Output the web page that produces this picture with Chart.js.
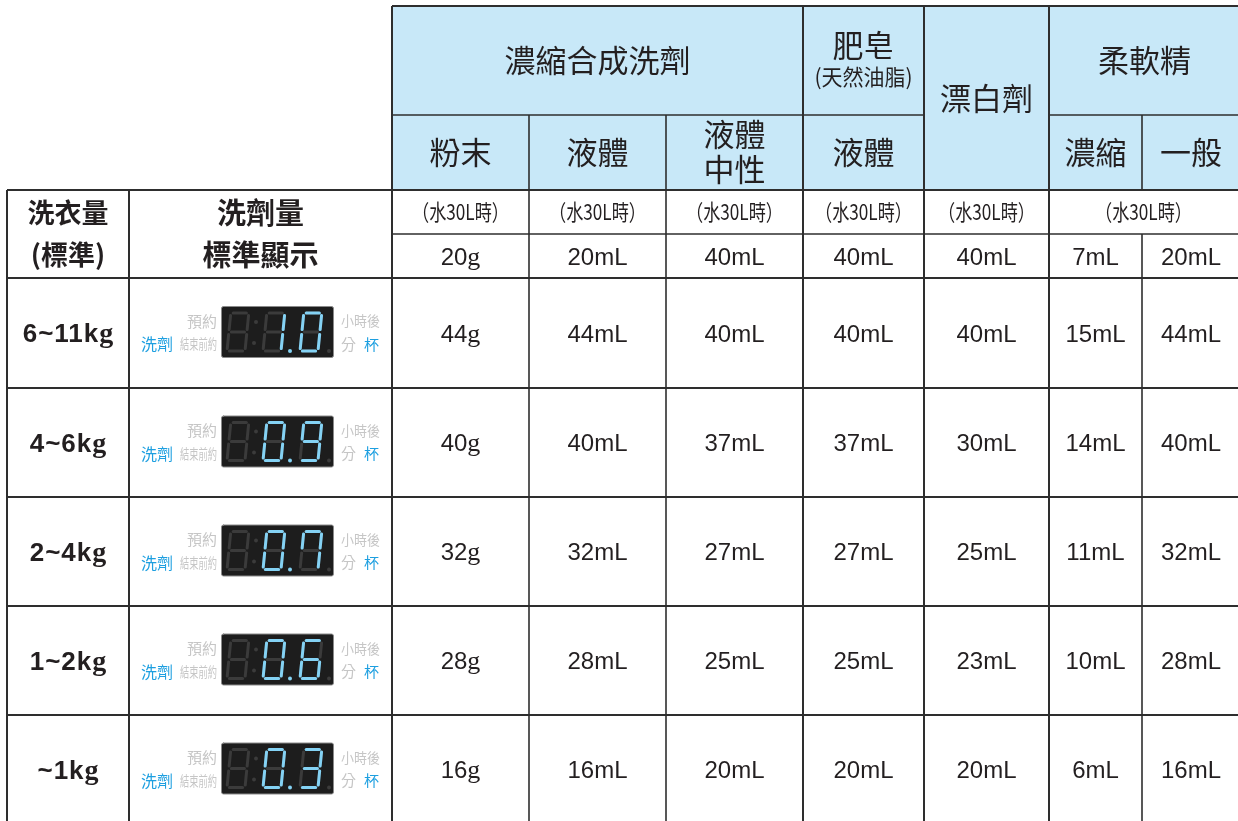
<!DOCTYPE html>
<html><head><meta charset="utf-8">
<script src="https://cdn.jsdelivr.net/npm/chart.js@4/dist/chart.umd.min.js"></script>
<style>html,body{margin:0;padding:0;background:#fff}#wrap{width:1238px;height:821px;position:relative}</style>
</head><body><div id="wrap"><canvas id="c"></canvas></div>
<script>
// ---------- data ----------
const loadLabels = ['6~11kg', '4~6kg', '2~4kg', '1~2kg', '~1kg'];
const displayReadings = ['1.0', '0.9', '0.7', '0.6', '0.3'];
const powderG = [44, 40, 32, 28, 16];
const liquidML = [44, 40, 32, 28, 16];
const neutralML = [40, 37, 27, 25, 20];
const soapML = [40, 37, 27, 25, 20];
const bleachML = [40, 30, 25, 23, 20];
const softenerConcML = [15, 14, 11, 10, 6];
const softenerNormalML = [44, 40, 32, 28, 16];
const per30L = [20, 20, 40, 40, 40, 7, 20];
const units = ['g', 'mL', 'mL', 'mL', 'mL', 'mL', 'mL'];
const subHeaders = [['粉末'], ['液體'], ['液體', '中性'], ['液體'], null, ['濃縮'], ['一般']];
const waterNote = '（水30L時）';

// ---------- layout (scale units) ----------
const colEdges = [7, 129, 392, 529, 666, 803, 924, 1049, 1142, 1240];
const rowEdges = [6, 115, 190, 234, 278, 388, 497, 606, 715, 824];

const columns = [powderG, liquidML, neutralML, soapML, bleachML, softenerConcML, softenerNormalML];
const mid = (a, b) => (a + b) / 2;
const colCenter = c => mid(colEdges[c], colEdges[c + 1]);
const rowCenter = r => mid(rowEdges[r], rowEdges[r + 1]);

const datasets = columns.map((vals, ci) => ({
  label: 'col' + ci,
  data: [{x: colCenter(ci + 2), y: rowCenter(3), v: per30L[ci]}]
    .concat(vals.map((v, ri) => ({x: colCenter(ci + 2), y: rowCenter(4 + ri), v}))),
  unit: units[ci],
  pointRadius: 0, showLine: false
}));

const TXT = '#231f20', LINE = '#2e2e2e', HEAD_BG = '#c8e8f8';
const CJK = '"Noto Sans CJK TC", "Noto Sans CJK JP", sans-serif';
const SANS = '"Liberation Sans", Arial, sans-serif';
const SERIF = '"Liberation Serif", "Times New Roman", serif';

function rich(ctx, parts, cx, baseline) {
  let total = 0;
  parts.forEach(p => { ctx.font = p.f; ctx.letterSpacing = p.ls || '0px'; p.w = ctx.measureText(p.t).width; total += p.w; });
  let x = cx - total / 2;
  ctx.textAlign = 'left'; ctx.textBaseline = 'alphabetic';
  parts.forEach(p => { ctx.font = p.f; ctx.letterSpacing = p.ls || '0px'; ctx.fillText(p.t, x, baseline); x += p.w; });
  ctx.letterSpacing = '0px';
}
function cjk(ctx, t, x, y, size, opts = {}) {
  ctx.font = `${opts.weight || 400} ${size}px ${CJK}`;
  ctx.fillStyle = opts.color || TXT;
  ctx.textAlign = opts.align || 'center';
  ctx.textBaseline = 'middle';
  if (opts.maxWidth) ctx.fillText(t, x, y, opts.maxWidth); else ctx.fillText(t, x, y);
}

const SEGS = {
  '0': 'abcdef', '1': 'bc', '2': 'abdeg', '3': 'abcdg', '4': 'bcfg', '5': 'acdfg',
  '6': 'acdefg', '7': 'abcf', '8': 'abcdefg', '9': 'abcdfg'
};
function drawDigit(ctx, dx, dy, segs, color) {
  const W = 18, H = 38, g = 2.4, sk = 0.1;
  const P = (x, y) => [dx + x + (H - y) * sk, dy + y];
  const lines = {
    a: [[g, 0], [W - g, 0]], b: [[W, g], [W, H / 2 - g]], c: [[W, H / 2 + g], [W, H - g]],
    d: [[g, H], [W - g, H]], e: [[0, H / 2 + g], [0, H - g]], f: [[0, g], [0, H / 2 - g]],
    g: [[g, H / 2], [W - g, H / 2]]
  };
  ctx.strokeStyle = color; ctx.lineWidth = 3; ctx.lineCap = 'round';
  for (const s of segs) {
    const [p1, p2] = lines[s];
    const a = P(...p1), b = P(...p2);
    ctx.beginPath(); ctx.moveTo(a[0], a[1]); ctx.lineTo(b[0], b[1]); ctx.stroke();
  }
}
function dot(ctx, x, y, color) { ctx.fillStyle = color; ctx.beginPath(); ctx.arc(x, y, 2, 0, Math.PI * 2); ctx.fill(); }

function drawLED(ctx, bx, by, reading) {
  const DIM = '#3b3b3b', LIT = '#84d2f4', GRAY = '#c6c6c6', BLUE = '#1d9fe0';
  // labels
  cjk(ctx, '預約', bx - 4, by + 15, 15, {align: 'right', color: GRAY});
  cjk(ctx, '結束前約', bx - 4, by + 38, 14, {align: 'right', color: GRAY, maxWidth: 37});
  cjk(ctx, '洗劑', bx - 48, by + 38, 16, {align: 'right', color: BLUE});
  cjk(ctx, '小時後', bx + 120, by + 15, 14, {align: 'left', color: GRAY, maxWidth: 39});
  cjk(ctx, '分', bx + 120, by + 38, 15, {align: 'left', color: GRAY});
  cjk(ctx, '杯', bx + 143, by + 38, 15, {align: 'left', color: BLUE});
  // box
  ctx.fillStyle = '#1d1d1d'; ctx.strokeStyle = '#8a8a8a'; ctx.lineWidth = 1;
  ctx.beginPath(); ctx.roundRect(bx + 0.5, by + 0.5, 112, 51, 2); ctx.fill(); ctx.stroke();
  const [d2, d3] = reading.split('.');
  const digX = [bx + 6, bx + 42, bx + 79], top = by + 7;
  digX.forEach(x => drawDigit(ctx, x, top, SEGS['8'], DIM));
  dot(ctx, bx + 35, by + 16, DIM); dot(ctx, bx + 33, by + 37, DIM);
  dot(ctx, bx + 108, by + 45, DIM);
  drawDigit(ctx, digX[1], top, SEGS[d2], LIT);
  drawDigit(ctx, digX[2], top, SEGS[d3], LIT);
  dot(ctx, bx + 69, by + 45, LIT);
}

const tablePlugin = {
  id: 'table',
  beforeDatasetsDraw(chart) {
    const {ctx, scales: {x, y}} = chart;
    const X = v => x.getPixelForValue(v), Y = v => y.getPixelForValue(v);
    ctx.save();
    ctx.fillStyle = '#fff'; ctx.fillRect(0, 0, chart.width, chart.height);
    ctx.fillStyle = HEAD_BG;
    ctx.fillRect(X(colEdges[2]), Y(rowEdges[0]), X(colEdges[9]) - X(colEdges[2]), Y(rowEdges[2]) - Y(rowEdges[0]));
    ctx.strokeStyle = LINE;
    const h = (y0, x0, x1, w = 2) => { ctx.lineWidth = w; ctx.beginPath(); ctx.moveTo(X(x0), Y(y0)); ctx.lineTo(X(x1), Y(y0)); ctx.stroke(); };
    const v = (x0, y0, y1, w = 2) => { ctx.lineWidth = w; ctx.beginPath(); ctx.moveTo(X(x0), Y(y0)); ctx.lineTo(X(x0), Y(y1)); ctx.stroke(); };
    const E = colEdges, R = rowEdges;
    h(R[0], E[2], E[9]);
    h(R[1], E[2], E[6], 1.6); h(R[1], E[7], E[9], 1.6);
    h(R[2], E[0], E[9]);
    h(R[3], E[2], E[9], 1.6);
    for (let r = 4; r <= 8; r++) h(R[r], E[0], E[9]);
    v(E[0], R[2], R[9]); v(E[1], R[2], R[9]);
    v(E[2], R[0], R[9]);
    v(E[3], R[1], R[9], 1.6); v(E[4], R[1], R[9], 1.6);
    v(E[5], R[0], R[9]); v(E[6], R[0], R[9]); v(E[7], R[0], R[9]);
    v(E[8], R[1], R[2], 1.6); v(E[8], R[3], R[9], 1.6);
    ctx.restore();
  },
  afterDatasetsDraw(chart) {
    const {ctx, scales: {x, y}} = chart;
    const X = v => x.getPixelForValue(v), Y = v => y.getPixelForValue(v);
    const E = colEdges, R = rowEdges;
    ctx.save();
    ctx.fillStyle = TXT;
    cjk(ctx, '濃縮合成洗劑', X(mid(E[2], E[5])), Y(rowCenter(0)), 31);
    cjk(ctx, '肥皂', X(colCenter(5)), Y(R[0] + 39), 31);
    cjk(ctx, '(天然油脂)', X(colCenter(5)), Y(R[0] + 71), 22, {maxWidth: 98});
    cjk(ctx, '漂白劑', X(colCenter(6)), Y(mid(R[0], R[2])), 31);
    cjk(ctx, '柔軟精', X(mid(E[7], E[9])), Y(rowCenter(0)), 31);
    subHeaders.forEach((lines, i) => {
      if (!lines) return;
      const cx = X(colCenter(i + 2)), cy = Y(rowCenter(1));
      if (lines.length === 1) cjk(ctx, lines[0], cx, cy, 31);
      else { cjk(ctx, lines[0], cx, cy - 18, 31); cjk(ctx, lines[1], cx, cy + 17, 31); }
    });
    for (let c = 2; c <= 6; c++) cjk(ctx, waterNote, X(colCenter(c)), Y(rowCenter(2)), 22, {maxWidth: 97});
    cjk(ctx, waterNote, X(mid(E[7], E[9]) - 1), Y(rowCenter(2)), 22, {maxWidth: 97});
    const lc = X(colCenter(0)), mc = X(colCenter(1));
    cjk(ctx, '洗衣量', lc, Y(R[2] + 23), 27, {weight: 700});
    cjk(ctx, '(標準)', lc, Y(R[2] + 65), 27, {weight: 700});
    cjk(ctx, '洗劑量', mc, Y(R[2] + 23), 29, {weight: 700});
    cjk(ctx, '標準顯示', mc, Y(R[2] + 65), 29, {weight: 700});
    ctx.fillStyle = TXT;
    chart.data.datasets.forEach((ds, di) => {
      const meta = chart.getDatasetMeta(di);
      meta.data.forEach((el, i) => {
        const val = ds.data[i].v;
        const parts = [{t: String(val), f: `24px ${SANS}`},
          ds.unit === 'g' ? {t: 'g', f: `26px ${SERIF}`} : {t: ds.unit, f: `24px ${SANS}`}];
        rich(ctx, parts, el.x, el.y + 8.5);
      });
    });
    loadLabels.forEach((lab, i) => {
      const cy = Y(rowCenter(4 + i));
      const m = lab.match(/^(.*k)(g)$/);
      ctx.fillStyle = TXT;
      rich(ctx, [{t: m[1], f: `bold 26px ${SANS}`, ls: '1px'}, {t: m[2], f: `bold 28px ${SERIF}`}], lc, cy + 9);
      drawLED(ctx, mc - 39.5, cy - 27, displayReadings[i]);
    });
    ctx.restore();
  }
};

new Chart(document.getElementById('c'), {
  type: 'scatter',
  data: {datasets},
  options: {
    responsive: true, maintainAspectRatio: false, animation: false,
    layout: {padding: 0},
    plugins: {legend: {display: false}, tooltip: {enabled: false}},
    events: [],
    scales: {
      x: {type: 'linear', min: 0, max: 1238, display: false},
      y: {type: 'linear', min: 0, max: 821, reverse: true, display: false}
    }
  },
  plugins: [tablePlugin]
});
</script></body></html>
